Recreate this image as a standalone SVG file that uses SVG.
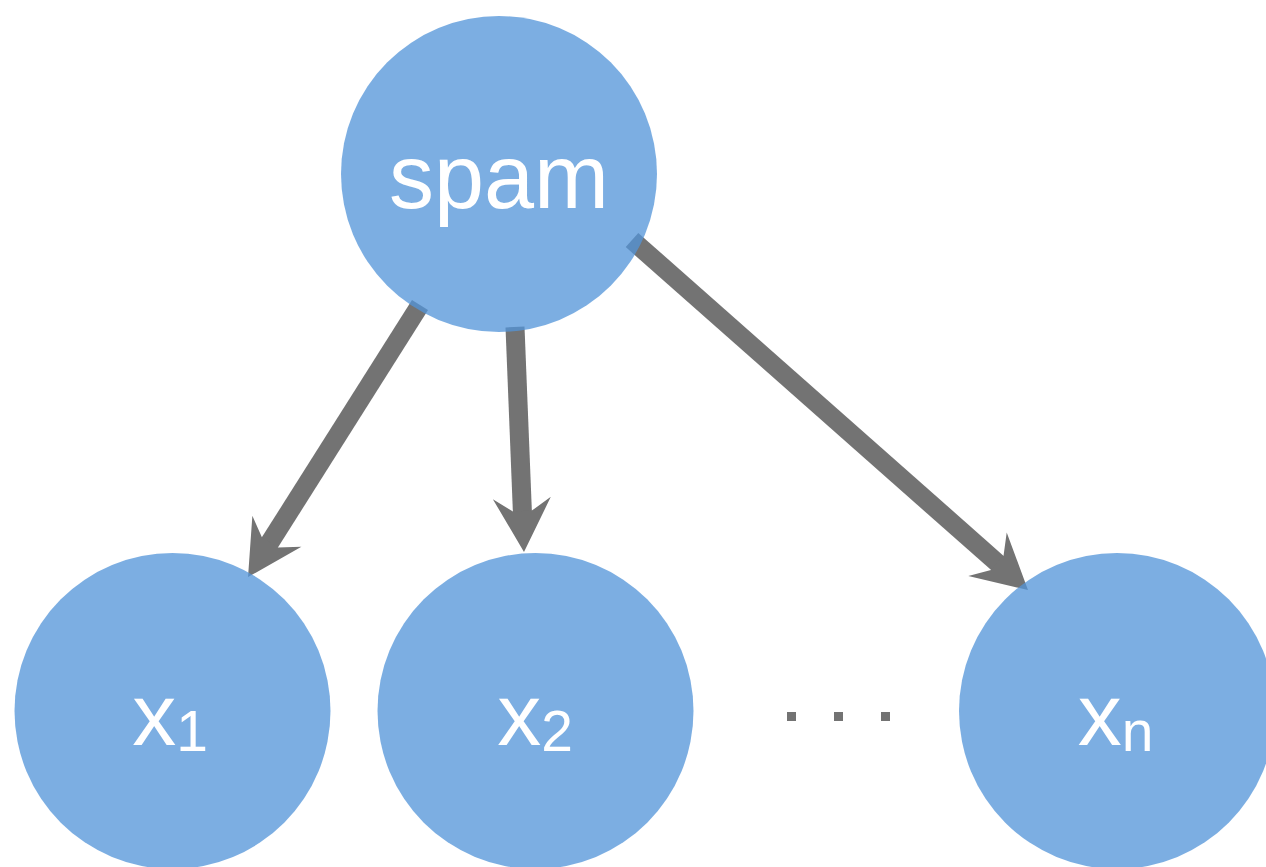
<svg xmlns="http://www.w3.org/2000/svg" width="1266" height="867" viewBox="0 0 1266 867">
<style>
.edge{stroke:#737373;stroke-width:19;fill:none;stroke-linecap:butt;marker-end:url(#head)}
.node circle{fill:rgb(83,149,217);fill-opacity:0.76}
.lbl{font-family:"Liberation Sans",Arial,sans-serif;fill:#fff;text-anchor:middle}
.dot{fill:#737373}
</style>
<defs>
<marker id="head" markerUnits="userSpaceOnUse" viewBox="-56 -31 58 62" refX="-40" refY="0" markerWidth="58" markerHeight="62" orient="auto">
<path d="M0,0 L-54,29 L-41,9.5 L-41,-9.5 L-54,-29 Z" fill="#737373"/>
</marker>
</defs>
<rect width="1266" height="867" fill="#fff"/>
<g id="connectors">
<line class="edge" x1="420" y1="305" x2="269.4" y2="543.2"/>
<line class="edge" x1="515" y1="327" x2="522.4" y2="512"/>
<line class="edge" x1="632" y1="240" x2="998" y2="563.5"/>
</g>
<g id="spam" class="node">
<circle cx="499" cy="174" r="158"/>
<text class="lbl" x="499" y="208" font-size="90">spam</text>
</g>
<g id="x1" class="node">
<circle cx="172.5" cy="711" r="158"/>
<text class="lbl" x="170" y="745" font-size="88">x<tspan font-size="57" dy="6">1</tspan></text>
</g>
<g id="x2" class="node">
<circle cx="535.5" cy="711" r="158"/>
<text class="lbl" x="535" y="745" font-size="88">x<tspan font-size="57" dy="6">2</tspan></text>
</g>
<g id="ellipsis">
<rect class="dot" x="787" y="712" width="9" height="9"/>
<rect class="dot" x="834" y="712" width="9" height="9"/>
<rect class="dot" x="881" y="712" width="9" height="9"/>
</g>
<g id="xn" class="node">
<circle cx="1117" cy="711" r="158"/>
<text class="lbl" x="1115.5" y="745" font-size="88">x<tspan font-size="57" dy="6">n</tspan></text>
</g>
</svg>
